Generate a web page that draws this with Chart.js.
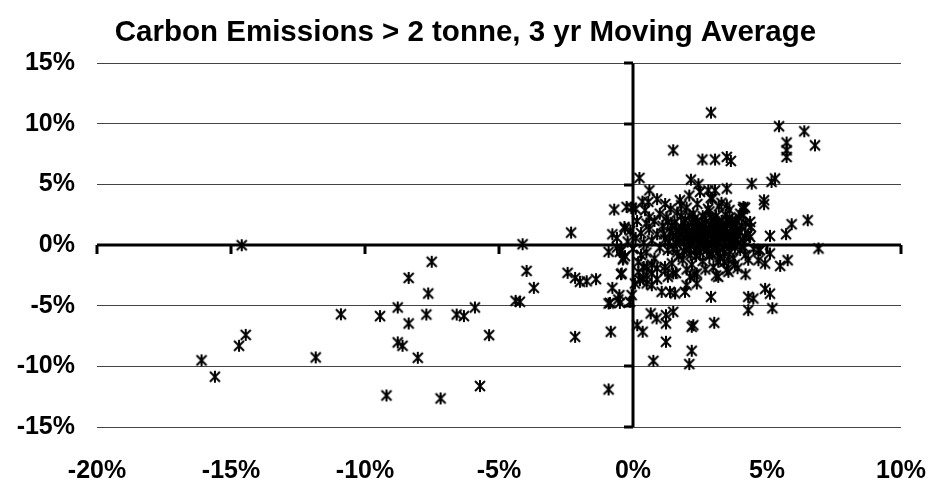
<!DOCTYPE html>
<html>
<head>
<meta charset="utf-8">
<script src="https://cdn.jsdelivr.net/npm/chart.js@4/dist/chart.umd.min.js"></script>
<style>
	html, body { margin: 0; padding: 0; background: #fff; }
	#wrap { width: 931px; height: 486px; }
</style>
</head>
<body>
<div id="wrap"><canvas id="plot" width="931" height="486"></canvas></div>
<script>
// values, [x %, y %]
const leftTail = [
	[-14.6, 0.0], [-10.9, -5.7], [-9.44, -5.85], [-14.45, -7.4], [-14.7, -8.3], [-16.1, -9.5],
	[-11.84, -9.26], [-15.6, -10.85], [-9.2, -12.4], [-8.78, -5.14], [-8.37, -2.7], [-7.51, -1.37],
	[-7.64, -3.98], [-7.71, -5.72], [-8.37, -6.46], [-8.78, -8.02], [-8.6, -8.3], [-8.03, -9.29],
	[-7.18, -12.64], [-6.58, -5.72], [-6.31, -5.85], [-5.9, -5.14], [-5.37, -7.42], [-5.71, -11.62],
	[-4.12, 0.08], [-3.97, -2.12], [-3.7, -3.52], [-4.38, -4.59], [-4.22, -4.67]
];

const nearZero = [
	[-2.31, 1.04], [-2.44, -2.28], [-2.16, -2.7], [-1.98, -3.02], [-1.73, -2.97], [-1.38, -2.8],
	[-2.16, -7.56], [-0.7, 2.94], [-0.77, 0.9], [-0.91, -0.55], [-0.36, -1.1], [-0.45, -2.39],
	[-0.77, -3.52], [-0.91, -4.81], [-0.55, -4.48], [-0.83, -7.14], [-0.91, -11.9], [-0.3, 1.37],
	[-0.24, 3.16], [-0.05, 3.1], [-0.32, 1.51], [-0.49, -0.55], [-0.42, -0.41], [-0.38, -1.18],
	[-0.42, -2.33], [-0.51, -4.12], [-0.86, -4.76], [-0.49, -4.76], [-0.11, -4.67], [-0.05, -4.12]
];

const rightLow = [
	[0.07, -3.16], [0.26, -2.89], [0.51, -3.16], [0.7, -3.3], [1.07, -3.85], [1.38, -3.85],
	[1.57, -3.98], [1.94, -3.85], [2.91, -4.26], [4.3, -4.26], [4.49, -4.4], [4.3, -5.36],
	[0.66, -5.63], [0.88, -6.04], [1.23, -5.77], [1.5, -5.5], [1.23, -6.46], [0.16, -6.6],
	[0.36, -7.14], [2.19, -6.73], [2.25, -6.6], [3.03, -6.4], [1.23, -7.97], [0.76, -9.54],
	[2.19, -8.71], [2.1, -9.81], [2.0, -3.3], [2.38, -3.16], [3.18, -2.61], [1.5, -2.33],
	[2.13, -2.61], [2.38, -2.33], [0.7, -2.33], [0.38, -2.75], [4.93, -3.6], [5.11, -4.0], [5.2, -5.2]
];

const rightHigh = [
	[2.91, 10.94], [1.5, 7.83], [2.59, 7.07], [3.06, 7.07], [3.5, 7.28], [3.65, 6.95],
	[0.24, 5.55], [0.61, 4.53], [2.16, 5.41], [2.44, 5.03], [4.43, 5.08], [3.06, 4.53],
	[2.81, 4.53], [3.5, 4.67], [0.57, 3.57], [0.45, 2.89], [1.75, 3.71], [2.96, 3.85],
	[3.5, 3.3], [4.12, 3.16], [4.37, 1.92], [5.45, 9.81], [6.39, 9.4], [5.73, 8.47],
	[6.79, 8.24], [5.73, 7.83], [5.73, 7.28], [5.17, 5.22], [5.3, 5.5], [4.89, 3.71],
	[4.89, 3.38], [4.18, 3.1], [4.12, 2.47], [5.92, 1.73], [6.52, 2.06], [5.71, 0.91],
	[5.11, 0.77], [4.18, 0.68], [4.37, 0.68], [6.92, -0.27], [4.74, -0.41], [5.11, -0.68],
	[4.93, -1.51], [5.49, -1.71], [5.77, -1.24], [3.18, -1.37], [3.56, -1.24], [3.56, -2.2],
	[1.19, -1.79], [0.51, -1.79], [4.68, -1.24], [4.68, -0.41]
];

const cluster = [
	[1.2, 0.5], [1.4, 1.1], [1.6, 0.2], [1.8, 1.5], [2.0, 0.8], [2.1, -0.3], [2.2, 1.9], [2.3, 0.4],
	[2.4, 1.2], [2.5, -0.6], [2.6, 0.9], [2.7, 2.2], [2.8, 0.1], [2.9, 1.6], [3.0, 0.6], [3.1, -0.2],
	[3.2, 1.3], [3.3, 2.0], [3.4, 0.3], [3.5, 1.0], [3.6, -0.5], [3.7, 0.7], [3.8, 1.8], [3.9, 0.2],
	[4.0, 1.1], [1.3, -0.4], [1.5, 0.7], [1.7, -0.9], [1.9, 0.3], [2.05, 1.4], [2.15, 0.0], [2.25, 2.6],
	[2.35, -0.9], [2.45, 0.6], [2.55, 1.7], [2.65, -0.1], [2.75, 1.0], [2.85, 2.8], [2.95, -0.7], [3.05, 1.9],
	[3.15, 0.9], [3.25, -1.0], [3.35, 1.5], [3.45, 2.5], [3.55, 0.0], [3.65, 1.4], [3.75, -1.1], [3.85, 0.5],
	[3.95, 2.3], [1.1, 1.6], [1.0, -0.2], [0.9, 0.9], [0.8, -1.1], [0.7, 0.4], [0.6, 1.3], [0.5, -0.6],
	[0.4, 0.2], [0.3, 1.0], [0.2, -1.4], [0.1, 0.6], [0.0, -0.3], [1.25, 2.3], [1.45, -1.5], [1.65, 2.7],
	[1.85, -1.2], [2.0, 3.1], [2.2, -1.6], [2.4, 3.4], [2.6, -1.3], [2.8, 3.0], [3.0, -1.8], [3.2, 3.2],
	[3.4, -1.4], [3.6, 2.9], [3.8, -1.6], [4.0, 2.6], [4.2, -0.8], [4.3, 0.9], [4.4, 1.5], [4.5, -0.3],
	[1.55, 1.9], [1.75, 0.4], [1.95, 2.1], [2.1, 1.0], [2.3, 1.6], [2.5, 0.2], [2.7, 1.3], [2.9, 0.5],
	[3.1, 2.4], [3.3, 0.8], [3.5, 1.7], [3.7, 0.1], [3.9, 1.3], [2.2, 0.6], [2.4, -0.2], [2.6, 1.5],
	[2.8, 0.8], [3.0, 1.2], [3.2, 0.2], [2.35, 1.0], [2.55, 0.4], [2.75, -0.4], [2.95, 0.9], [3.15, 1.6],
	[3.35, -0.3], [1.9, -0.5], [1.7, 1.1], [0.6, 2.3], [0.9, -1.9], [1.2, -2.1], [0.4, -1.8], [0.8, 2.0],
	[1.0, 2.6], [1.4, 3.0], [1.8, 3.3], [2.1, 4.1], [2.5, 4.4], [2.9, 3.9], [3.3, 3.5], [3.7, 2.1],
	[4.1, 3.0], [4.3, -1.2], [0.3, -0.8], [0.5, 1.8], [0.7, -1.6], [0.15, 2.0], [-0.1, 1.2], [-0.2, 0.3],
	[-0.3, -0.9], [-0.6, -0.2], [-0.6, 0.6], [1.3, -2.6], [1.6, -2.3], [2.0, -2.0], [2.3, -2.4], [2.7, -2.0],
	[3.1, -2.5], [3.5, -2.0], [3.9, -1.9], [4.2, -2.4], [0.2, -2.2], [0.5, -2.5], [0.9, -2.8], [0.1, 3.0],
	[0.35, 3.6], [0.9, 3.8], [1.2, 3.4]
];

// the solid core of the cloud
const core = [
	[1.6, 1.3], [1.7, 0.6], [1.9, 1.9], [2.0, -0.1], [2.1, 2.4], [2.2, 1.2], [2.3, -0.4], [2.4, 2.0],
	[2.5, 1.1], [2.6, 0.3], [2.7, 1.8], [2.8, -0.3], [2.9, 2.3], [3.0, 1.5], [3.1, 0.3], [3.2, 1.9],
	[3.3, 1.1], [3.4, -0.6], [3.5, 2.1], [3.6, 0.6], [3.7, 1.5], [3.8, -0.2], [3.9, 0.8], [1.85, 0.9],
	[2.05, 0.3], [2.25, 0.9], [2.45, 1.6], [2.65, 0.6], [2.85, 1.3], [3.05, 0.0], [3.25, 0.6], [3.45, 1.3],
	[3.65, 0.2], [3.85, 1.1], [1.5, -0.3], [1.35, 0.3], [1.15, 0.9], [4.1, 0.4], [4.2, 1.8], [4.0, -0.4],
	[1.45, 1.6], [1.65, -0.6], [1.8, 2.4], [1.95, 1.2], [2.15, -0.8], [2.3, 2.2], [2.45, 0.1], [2.6, 2.4],
	[2.7, 0.5], [2.85, -0.9], [3.0, 2.1], [3.15, -0.6], [3.3, 1.6], [3.45, 0.6], [3.6, 1.9], [3.75, 0.9],
	[3.85, 2.0], [4.05, 1.6], [4.15, -0.2], [1.3, 1.9]
];

const xTickValues = [-20, -15, -10, -5, 0, 5, 10];
const yTickValues = [-15, -10, -5, 0, 5, 10, 15];

const titleText = 'Carbon Emissions > 2 tonne, 3 yr Moving Average';
const fontName = "'Liberation Sans', Arial, sans-serif";

function makeStar()
{
	var c = document.createElement('canvas');
	c.width = 14;
	c.height = 14;
	var g = c.getContext('2d');
	g.strokeStyle = '#000';
	g.lineWidth = 2;
	g.beginPath();
	g.moveTo(7, 1); g.lineTo(7, 13);
	g.moveTo(2, 2); g.lineTo(12, 12);
	g.moveTo(12, 2); g.lineTo(2, 12);
	g.stroke();
	return c;
}

// the two axes that cross at zero, with their tick marks
const zeroAxes =
{
	id: 'zeroAxes',
	beforeDatasetsDraw(chart)
	{
		const ctx = chart.ctx;
		const a = chart.chartArea;
		const sx = chart.scales.x;
		const sy = chart.scales.y;
		const x0 = Math.round(sx.getPixelForValue(0));
		const y0 = Math.round(sy.getPixelForValue(0));

		ctx.save();
		ctx.strokeStyle = '#000';
		ctx.lineWidth = 3;
		ctx.beginPath();
		ctx.moveTo(a.left, y0); ctx.lineTo(a.right, y0);
		ctx.moveTo(x0, a.top); ctx.lineTo(x0, a.bottom);
		for (const v of xTickValues)
		{
			const px = Math.round(sx.getPixelForValue(v));
			ctx.moveTo(px, y0); ctx.lineTo(px, y0 + 9);
		}
		for (const v of yTickValues)
		{
			const py = Math.round(sy.getPixelForValue(v));
			ctx.moveTo(x0 - 9, py); ctx.lineTo(x0, py);
		}
		ctx.stroke();
		ctx.restore();
	}
};

const points = [].concat(leftTail, nearZero, rightLow, rightHigh, cluster, core).map(p => ({ x: p[0], y: p[1] }));

Chart.defaults.font.family = fontName;
Chart.defaults.color = '#000';

const ctx = document.getElementById('plot').getContext('2d');
const plot = new Chart(ctx,
{
	type: 'scatter',
	data:
	{
		datasets: [{
			data: points,
			pointStyle: makeStar(),
			pointRadius: 7,
			borderColor: '#000',
			backgroundColor: '#000'
		}]
	},
	options:
	{
		responsive: false,
		animation: false,
		events: [],
		layout: { padding: 0 },
		plugins:
		{
			legend: { display: false },
			tooltip: { enabled: false },
			title:
			{
				display: true,
				text: titleText,
				color: '#000',
				font: { size: 29.5, weight: 'bold' },
				padding: { top: 15, bottom: 13 }
			}
		},
		scales:
		{
			x:
			{
				type: 'linear',
				min: -20,
				max: 10,
				afterBuildTicks: s => { s.ticks = xTickValues.map(v => ({ value: v })); },
				afterFit: s => { s.height = 59; s.paddingLeft = 0; s.paddingRight = 0; },
				grid: { display: false },
				border: { display: false },
				ticks: { padding: 21, font: { size: 25, weight: 'bold' }, callback: v => v + '%' }
			},
			y:
			{
				type: 'linear',
				min: -15,
				max: 15,
				afterBuildTicks: s => { s.ticks = yTickValues.map(v => ({ value: v })); },
				afterFit: s => { s.width = 97; s.paddingTop = 0; s.paddingBottom = 0; },
				grid: { color: '#444', lineWidth: 1, drawTicks: false },
				border: { display: false },
				ticks: { padding: 22, font: { size: 25, weight: 'bold' }, callback: v => v + '%' }
			},
			// empty strip on the right, keeps the plot clear of the edge
			yRight:
			{
				type: 'linear',
				position: 'right',
				min: -15,
				max: 15,
				afterFit: s => { s.width = 30; s.paddingTop = 0; s.paddingBottom = 0; },
				grid: { display: false, drawOnChartArea: false },
				border: { display: false },
				ticks: { display: false }
			}
		}
	},
	plugins: [zeroAxes]
});
</script>
</body>
</html>
